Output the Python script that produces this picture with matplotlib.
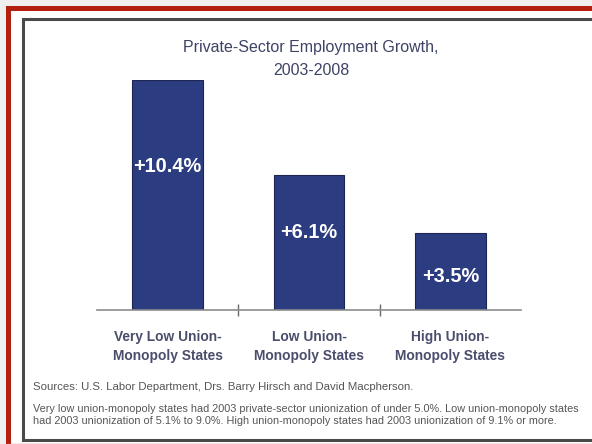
import matplotlib
matplotlib.use("Agg")
import matplotlib.pyplot as plt
from matplotlib.lines import Line2D
from matplotlib.patches import Rectangle

# chart data
categories = ["Very Low Union-\nMonopoly States", "Low Union-\nMonopoly States", "High Union-\nMonopoly States"]
growth = [10.4, 6.1, 3.5]
value_labels = ["+10.4%", "+6.1%", "+3.5%"]
title = "Private-Sector Employment Growth,\n2003-2008"
source = "Sources: U.S. Labor Department, Drs. Barry Hirsch and David Macpherson."
note = ("Very low union-monopoly states had 2003 private-sector unionization of under 5.0%. Low union-monopoly states\n"
        "had 2003 unionization of 5.1% to 9.0%. High union-monopoly states had 2003 unionization of 9.1% or more.")

W, H = 592, 444
plt.rcParams['font.family'] = ['Liberation Sans', 'DejaVu Sans']

fig = plt.figure(figsize=(W / 100, H / 100), dpi=100)
fig.patch.set_facecolor('#efefef')

def fx(px):
    return px / W

def fy(py):
    return 1 - py / H

# white card, red border, inner dark frame
fig.add_artist(Rectangle((fx(7), 0), 1, fy(8), transform=fig.transFigure,
                         facecolor='white', edgecolor='none', zorder=0))
red = '#b3200f'
fig.add_artist(Line2D([fx(7.5), fx(7.5), 1.01], [-0.01, fy(8.5), fy(8.5)],
                      transform=fig.transFigure, color=red, lw=3.6,
                      solid_joinstyle='miter'))
fig.add_artist(Line2D([fx(7.5), 1.01], [fy(443.5), fy(443.5)],
                      transform=fig.transFigure, color='#d98a80', lw=1))
frame = '#4a4a4a'
fig.add_artist(Line2D([fx(22.5), fx(22.5), 1.01], [fy(439.5), fy(19), fy(19)],
                      transform=fig.transFigure, color=frame, lw=2.2,
                      solid_joinstyle='miter'))
fig.add_artist(Line2D([fx(22.5), 1.01], [fy(439.5), fy(439.5)],
                      transform=fig.transFigure, color=frame, lw=2.2))

# bar axes
ax = fig.add_axes([fx(97), fy(310), fx(521) - fx(97), fy(80) - fy(310)])
ax.set_facecolor('none')
x = list(range(len(growth)))
ax.bar(x, growth, width=0.5, color='#2b3c80', edgecolor='#1d2552', linewidth=0.8)
ax.set_xlim(-0.5, 2.5)
ax.set_ylim(0, max(growth))
for s in ['top', 'right', 'left']:
    ax.spines[s].set_visible(False)
ax.spines['bottom'].set_color('#8c8c8c')
ax.spines['bottom'].set_linewidth(1.2)
ax.set_yticks([])
ax.set_xticks([0.5, 1.5])
ax.set_xticklabels([])
ax.tick_params(axis='x', direction='inout', length=8, color='#6a6a6a', width=1)

label_y = [6.5, 3.5, 1.5]
for xi, lab, ly in zip(x, value_labels, label_y):
    ax.text(xi, ly, lab, ha='center', va='center', color='white',
            fontsize=14.4, fontweight='bold')

for xi, cat in zip(x, categories):
    ax.text(xi, -1.65, cat, ha='center', va='center', color='#4a4e6c',
            fontsize=9.9, fontweight='bold', linespacing=1.45)

fig.text(fx(311), fy(59), title, ha='center', va='center', color='#3e4366',
         fontsize=11.5, linespacing=1.65)
fig.text(fx(33), fy(387), source, ha='left', va='center', color='#555555', fontsize=8.2)
fig.text(fx(33), fy(415), note, ha='left', va='center', color='#555555', fontsize=7.85,
         linespacing=1.35)

fig.savefig("out.png", dpi=100, facecolor=fig.get_facecolor())
